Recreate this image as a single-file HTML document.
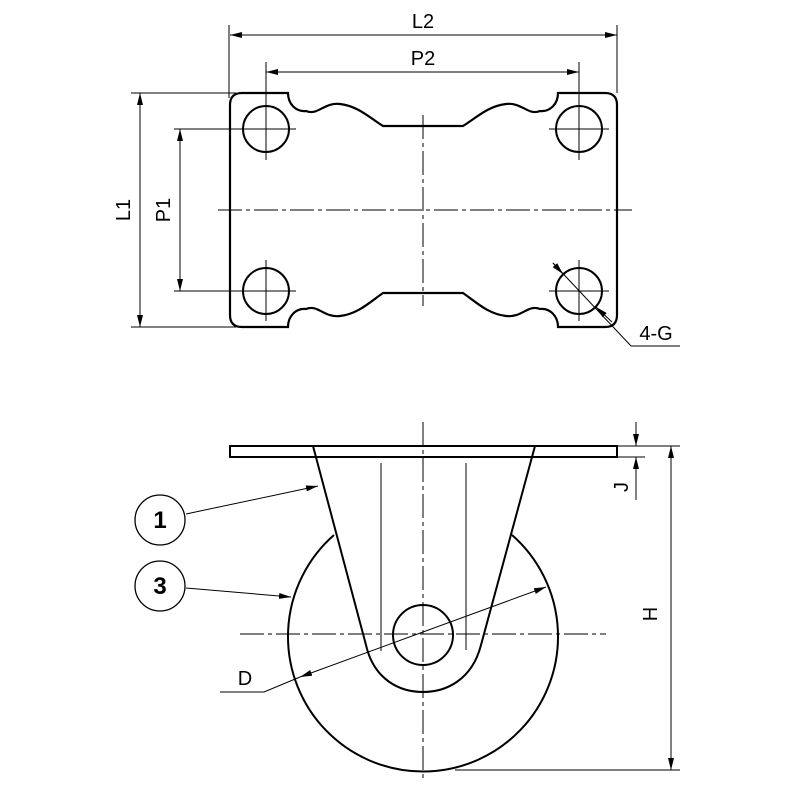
<!DOCTYPE html>
<html><head><style>html,body{margin:0;padding:0;background:#fff}svg{display:block}</style></head><body>
<svg width="800" height="800" viewBox="0 0 800 800" xmlns="http://www.w3.org/2000/svg" font-family="Liberation Sans, sans-serif">
<defs>
<marker id="a" viewBox="0 0 12 6" refX="12" refY="3" markerWidth="12" markerHeight="6" markerUnits="userSpaceOnUse" orient="auto-start-reverse"><path d="M0,0 L12,3 L0,6z" fill="#000"/></marker>
</defs>
<g fill="none" stroke="#000">
<!-- top plate -->
<path stroke-width="2.2" d="M242,93 L288,93 C288,104 296,112 306,111 C318,116 324,102 340,104 C358,106 370,118 383,126 L463,126 C476,118 488,106 506,104 C522,102 528,116 540,111 C550,112 558,104 558,93 L605,93 Q617,93 617,105 L617,315 Q617,327 605,327 L558,327 C558,316 550,308 540,309 C528,304 522,318 506,316 C488,314 476,302 463,293 L383,293 C370,302 358,314 340,316 C324,318 318,304 306,309 C296,308 288,316 288,327 L242,327 Q230,327 230,315 L230,105 Q230,93 242,93 Z"/>
<g stroke-width="2"><circle cx="266" cy="129" r="23"/><circle cx="579" cy="129" r="23"/><circle cx="266" cy="291" r="23"/><circle cx="579" cy="291" r="23"/></g>
<g stroke-width="1">
<path d="M266,62 V160 M266,260 V321 M236,129 H296 M549,129 H609 M236,291 H296 M549,291 H609 M579,62 V160 M579,260 V321"/>
<path d="M218,210 H632" stroke-dasharray="24,4,4,4"/>
<path d="M423,115 V306" stroke-dasharray="24,4,4,4"/>
<path d="M229,25 V98 M617,25 V93 M131,93 H236 M131,327 H236 M174,129 H266 M174,291 H266"/>
<path d="M230,35 H617" marker-start="url(#a)" marker-end="url(#a)"/>
<path d="M266,72 H579" marker-start="url(#a)" marker-end="url(#a)"/>
<path d="M140,93 V327" marker-start="url(#a)" marker-end="url(#a)"/>
<path d="M180,129 V291" marker-start="url(#a)" marker-end="url(#a)"/>
<path d="M553,263 L631,346 H680"/>
<path d="M553,263 L563,274" marker-end="url(#a)"/>
</g>
<path d="M612,322 L596,307" stroke-width="1" marker-end="url(#a)"/>
<!-- bottom view -->
<rect x="230" y="446" width="387" height="11" stroke-width="2"/>
<path stroke-width="2" d="M313,446 L366,645 C374,680 400,692 423,692 C446,692 472,680 481,645 L535,446"/>
<path stroke-width="2" d="M334,535 A135,135 0 1 0 512,535"/>
<circle cx="423" cy="635" r="30" stroke-width="2"/>
<g stroke-width="1">
<path d="M381,463 V651 M466,463 V650"/>
<path d="M423,422 V780" stroke-dasharray="24,4,4,4"/>
<path d="M240,634 H606" stroke-dasharray="24,4,4,4"/>
<circle cx="160" cy="520" r="25" stroke-width="1.3"/>
<circle cx="160" cy="586" r="25" stroke-width="1.3"/>
<path d="M186,514 L318,486" marker-end="url(#a)"/>
<path d="M186,588 L291,597" marker-end="url(#a)"/>
<path d="M300,677 L546,587" marker-start="url(#a)" marker-end="url(#a)"/>
<path d="M220,692 H264 L300,677"/>
<path d="M617,446 H680 M617,457 H645 M455,770 H680"/>
<path d="M671,446 V770" marker-start="url(#a)" marker-end="url(#a)"/>
<path d="M636,422 V446" marker-end="url(#a)"/>
<path d="M636,500 V457" marker-end="url(#a)"/>
</g>
</g>
<g font-size="20" fill="#000" text-anchor="middle">
<text x="423" y="28">L2</text>
<text x="423" y="65">P2</text>
<text x="0" y="0" transform="translate(130,210) rotate(-90)">L1</text>
<text x="0" y="0" transform="translate(170,210) rotate(-90)">P1</text>
<text x="656" y="340">4-G</text>
<text x="245" y="685">D</text>
<text x="0" y="0" transform="translate(628,487) rotate(-90)">J</text>
<text x="0" y="0" transform="translate(657,614) rotate(-90)">H</text>
<text x="160" y="528" font-size="24" font-weight="bold">1</text>
<text x="160" y="594" font-size="24" font-weight="bold">3</text>
</g>
</svg>
</body></html>
